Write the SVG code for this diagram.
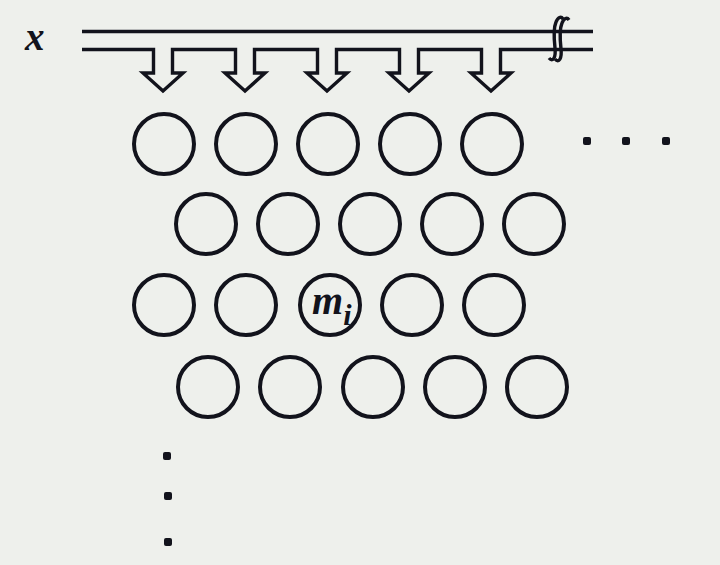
<svg xmlns="http://www.w3.org/2000/svg" width="720" height="565" viewBox="0 0 720 565">
<style>
.bg{fill:#eef0ec}
.ink{fill:none;stroke:#12131c;stroke-width:3.4;stroke-linejoin:miter}
.node{fill:none;stroke:#12131c;stroke-width:4}
.dot{fill:#12131c}
.lbl{font-family:"Liberation Serif","Times New Roman",serif;font-style:italic;font-weight:bold;fill:#12131c}
</style>
<rect class="bg" x="0" y="0" width="720" height="565"/>
<text class="lbl" x="25" y="50" font-size="39">x</text>
<g id="connectors">
<path class="ink" d="M82 31.5 H593"/>
<path class="ink" d="M82 49.5 H153.5 V73 H143 L163 91 L183 73 H172.5 V49.5 H235.5 V73 H225 L245 91 L265 73 H254.5 V49.5 H317.5 V73 H307 L327 91 L347 73 H336.5 V49.5 H399.5 V73 H389 L409 91 L429 73 H418.5 V49.5 H481.5 V73 H471 L491 91 L511 73 H500.5 V49.5 H593"/>
<path class="ink" stroke-width="2.8" d="M549 58 C553 63 556 57 555 48 C554 39 553 29 556 22 C558 17 561 16 563 19"/>
<path class="ink" stroke-width="2.8" d="M555 59 C559 64 562 58 561 49 C560 40 559 30 562 23 C564 18 567 17 569 20"/>
</g>
<g id="row1">
<g id="n1_1"><circle class="node" cx="164" cy="144" r="30"/></g>
<g id="n1_2"><circle class="node" cx="246" cy="144" r="30"/></g>
<g id="n1_3"><circle class="node" cx="328" cy="144" r="30"/></g>
<g id="n1_4"><circle class="node" cx="410" cy="144" r="30"/></g>
<g id="n1_5"><circle class="node" cx="492" cy="144" r="30"/></g>
</g>
<g id="row2">
<g id="n2_1"><circle class="node" cx="206" cy="224" r="30"/></g>
<g id="n2_2"><circle class="node" cx="288" cy="224" r="30"/></g>
<g id="n2_3"><circle class="node" cx="370" cy="224" r="30"/></g>
<g id="n2_4"><circle class="node" cx="452" cy="224" r="30"/></g>
<g id="n2_5"><circle class="node" cx="534" cy="224" r="30"/></g>
</g>
<g id="row3">
<g id="n3_1"><circle class="node" cx="164" cy="305" r="30"/></g>
<g id="n3_2"><circle class="node" cx="246" cy="305" r="30"/></g>
<g id="n3_3"><circle class="node" cx="330" cy="305" r="30"/>
<text class="lbl" x="312" y="314" font-size="40">m<tspan font-size="30" dy="11">i</tspan></text></g>
<g id="n3_4"><circle class="node" cx="412" cy="305" r="30"/></g>
<g id="n3_5"><circle class="node" cx="494" cy="305" r="30"/></g>
</g>
<g id="row4">
<g id="n4_1"><circle class="node" cx="208" cy="387" r="30"/></g>
<g id="n4_2"><circle class="node" cx="290" cy="387" r="30"/></g>
<g id="n4_3"><circle class="node" cx="373" cy="387" r="30"/></g>
<g id="n4_4"><circle class="node" cx="455" cy="387" r="30"/></g>
<g id="n4_5"><circle class="node" cx="537" cy="387" r="30"/></g>
</g>
<g id="ellipsis-h">
<rect class="dot" x="583" y="137" width="8" height="8" rx="2"/>
<rect class="dot" x="622" y="137" width="8" height="8" rx="2"/>
<rect class="dot" x="662" y="137" width="8" height="8" rx="2"/>
</g>
<g id="ellipsis-v">
<rect class="dot" x="163" y="452" width="8" height="8" rx="2"/>
<rect class="dot" x="164" y="492" width="8" height="8" rx="2"/>
<rect class="dot" x="164" y="538" width="8" height="8" rx="2"/>
</g>
</svg>
